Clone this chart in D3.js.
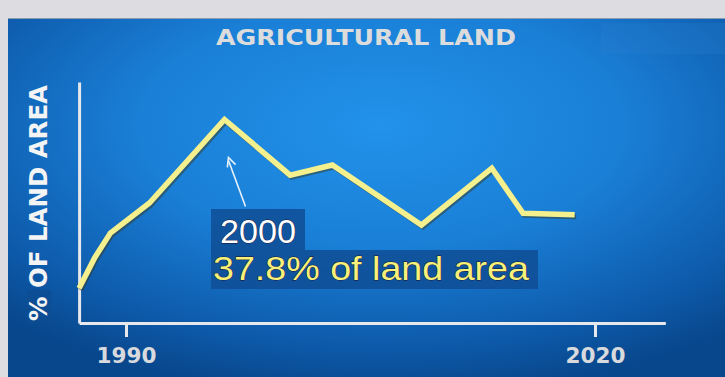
<!DOCTYPE html>
<html>
<head>
<meta charset="utf-8">
<script src="https://cdn.jsdelivr.net/npm/d3@7"></script>
<style>
  html, body { margin: 0; padding: 0; background: #dddce1; }
  svg { display: block; }
</style>
</head>
<body>
<div id="chart"></div>
<script>
// --- DATA ---
const years = [1987, 1988, 1989, 1991.5, 1996.3, 2000.5, 2003.2, 2008.9, 2013.4, 2015.4, 2018.7];
const shares = [34.65, 35.22, 35.68, 36.24, 37.8, 36.76, 36.95, 35.83, 36.89, 36.05, 36.02];
const tickYears = [1990, 2020];
const title = 'AGRICULTURAL LAND';
const yLabel = '% OF LAND AREA';
const noteYear = '2000';
const noteValue = 37.8;

// --- SETUP ---
const W = 725, H = 377;
const svg = d3.select('#chart').append('svg')
  .attr('width', W).attr('height', H);

const defs = svg.append('defs');
const grad = defs.append('radialGradient')
  .attr('id', 'bg').attr('cx', '52%').attr('cy', '30%').attr('r', '75%');
grad.append('stop').attr('offset', '0%').attr('stop-color', '#2292ea');
grad.append('stop').attr('offset', '45%').attr('stop-color', '#1a7fd6');
grad.append('stop').attr('offset', '80%').attr('stop-color', '#0e5cad');
grad.append('stop').attr('offset', '100%').attr('stop-color', '#08478c');

// frame + panel
svg.append('rect').attr('width', W).attr('height', H).attr('fill', '#dddce1');
svg.append('rect').attr('x', 8).attr('y', 18).attr('width', W - 8).attr('height', H - 18)
  .attr('fill', 'url(#bg)');
svg.append('line').attr('x1', 8).attr('x2', W).attr('y1', 18.5).attr('y2', 18.5)
  .attr('stroke', '#8a9bb0').attr('stroke-width', 1);
svg.append('rect').attr('x', 601).attr('y', 23).attr('width', 124).attr('height', 31)
  .attr('fill', '#2a80d0').attr('opacity', 0.25);

// --- SCALES ---
const x = d3.scaleLinear().domain([1990, 2020]).range([126, 595]);
const y = d3.scaleLinear().domain([34, 38.5]).range([323, 82]);
const xAxisEnd = 2024.5;

// --- TITLE ---
svg.append('text')
  .attr('x', 366).attr('y', 45)
  .attr('text-anchor', 'middle')
  .attr('font-family', 'DejaVu Sans, sans-serif')
  .attr('font-weight', 700).attr('font-size', 21)
  .attr('textLength', 300).attr('lengthAdjust', 'spacingAndGlyphs')
  .attr('fill', '#dcdcdc')
  .text(title);

// --- Y LABEL ---
svg.append('rect').attr('x', 27).attr('y', 290).attr('width', 24).attr('height', 34)
  .attr('fill', '#0d4d92').attr('opacity', 0.7);
svg.append('text')
  .attr('transform', 'translate(47,203) rotate(-90)')
  .attr('text-anchor', 'middle')
  .attr('font-family', 'DejaVu Sans, sans-serif')
  .attr('font-weight', 700).attr('font-size', 24)
  .attr('textLength', 236).attr('lengthAdjust', 'spacingAndGlyphs')
  .attr('fill', '#f4f4f4')
  .text(yLabel);

// --- AXES ---
const xAxis = svg.append('g')
  .attr('transform', `translate(0,${y.range()[0]})`)
  .call(d3.axisBottom(d3.scaleLinear().domain([years[0], xAxisEnd]).range([x(years[0]), x(xAxisEnd)]))
    .tickValues(tickYears).tickSize(14).tickSizeOuter(0).tickPadding(10)
    .tickFormat(d3.format('d')));
xAxis.select('.domain').attr('stroke', '#e6e8ec').attr('stroke-width', 3);
xAxis.selectAll('.tick line').attr('stroke', '#e6e8ec').attr('stroke-width', 3);
xAxis.selectAll('.tick text')
  .attr('fill', '#d8dadd')
  .attr('font-family', 'DejaVu Sans, sans-serif')
  .attr('font-weight', 700).attr('font-size', 22)
  .attr('textLength', 60).attr('lengthAdjust', 'spacingAndGlyphs');

const yAxis = svg.append('g')
  .attr('transform', `translate(${x(years[0])},0)`)
  .call(d3.axisLeft(y).tickValues([]).tickSizeOuter(0));
yAxis.select('.domain').attr('stroke', '#e6e8ec').attr('stroke-width', 3);

// --- LINE ---
const line = d3.line().x((d, i) => x(years[i])).y(d => y(d));
svg.append('path')
  .datum(shares)
  .attr('transform', 'translate(1.5,2)')
  .attr('d', line)
  .attr('fill', 'none')
  .attr('stroke', '#3a3a20').attr('stroke-opacity', 0.5)
  .attr('stroke-width', 5).attr('stroke-linejoin', 'miter');
svg.append('path')
  .datum(shares)
  .attr('d', line)
  .attr('fill', 'none')
  .attr('stroke', '#f5f08e')
  .attr('stroke-width', 5.5).attr('stroke-linejoin', 'miter');

// --- ANNOTATION ---
const peakI = shares.indexOf(noteValue);
const px = x(years[peakI]), py = y(shares[peakI]);
const tip = [px + 4, py + 38], tail = [px + 21, py + 87];

svg.append('line')
  .attr('x1', tail[0]).attr('y1', tail[1]).attr('x2', tip[0]).attr('y2', tip[1] + 3)
  .attr('stroke', '#e8f2fb').attr('stroke-width', 1.6);
const ang = Math.atan2(tip[1] - tail[1], tip[0] - tail[0]);
const ah = 10, aw = 0.45;
svg.append('path')
  .attr('d', `M${tip[0] - ah * Math.cos(ang - aw)},${tip[1] - ah * Math.sin(ang - aw)}
              L${tip[0]},${tip[1]}
              L${tip[0] - ah * Math.cos(ang + aw)},${tip[1] - ah * Math.sin(ang + aw)}`)
  .attr('fill', 'none').attr('stroke', '#e8f2fb').attr('stroke-width', 1.6);

const boxX = 211;
svg.append('rect').attr('x', boxX).attr('y', 209).attr('width', 94).attr('height', 41)
  .attr('fill', '#0f4e95').attr('opacity', 0.85);
svg.append('rect').attr('x', boxX).attr('y', 250).attr('width', 327).attr('height', 39)
  .attr('fill', '#0f4e95').attr('opacity', 0.85);

const noteFont = 'Liberation Sans, Arial, sans-serif';
svg.append('text')
  .attr('x', boxX + 9).attr('y', 243)
  .attr('font-family', noteFont).attr('font-size', 33)
  .attr('textLength', 76).attr('lengthAdjust', 'spacingAndGlyphs')
  .attr('fill', '#ffffff')
  .attr('stroke', '#1a1030').attr('stroke-width', 0.8).attr('paint-order', 'stroke')
  .text(noteYear);
svg.append('text')
  .attr('x', boxX + 2).attr('y', 280)
  .attr('font-family', noteFont).attr('font-size', 33)
  .attr('textLength', 316).attr('lengthAdjust', 'spacingAndGlyphs')
  .attr('fill', '#f7f17a')
  .attr('stroke', '#1a1030').attr('stroke-width', 0.8).attr('paint-order', 'stroke')
  .text(`${noteValue}% of land area`);
</script>
</body>
</html>
